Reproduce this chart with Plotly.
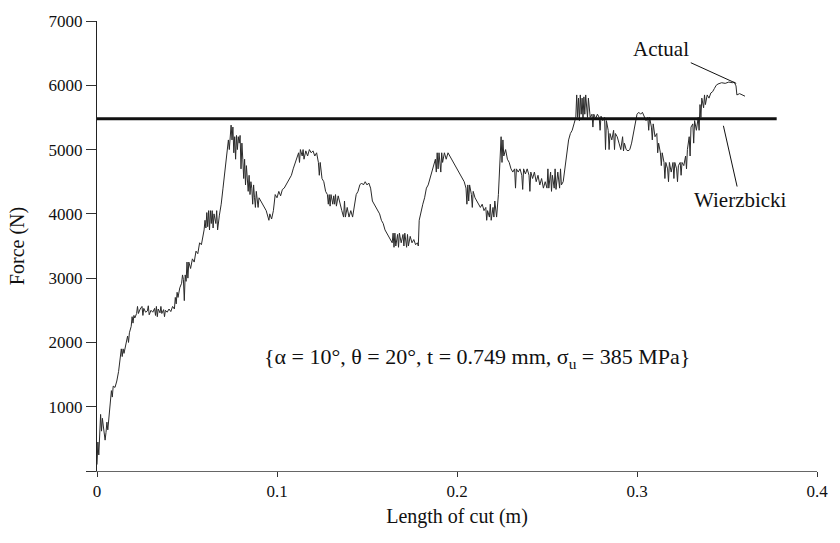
import plotly.graph_objects as go

# ---- data ----
actual_pts = [
    (0.000, 100), (0.0005, 450), (0.001, 250), (0.0015, 700), (0.002, 880), (0.0025, 620),
    (0.003, 820), (0.0035, 700), (0.004, 560), (0.0045, 480), (0.005, 600), (0.0055, 760),
    (0.006, 640), (0.0065, 820), (0.007, 900), (0.0075, 1100), (0.008, 1250), (0.0085, 1150),
    (0.009, 1320), (0.010, 1300), (0.011, 1400), (0.012, 1550), (0.013, 1800), (0.0135, 1900),
    (0.014, 1780), (0.0145, 1900), (0.015, 1830), (0.016, 1950), (0.017, 2100), (0.0175, 2000),
    (0.018, 2150), (0.019, 2250), (0.0195, 2400), (0.020, 2300), (0.0205, 2420), (0.021, 2380),
    (0.022, 2450), (0.0225, 2560), (0.023, 2450), (0.024, 2520),
    (0.025, 2560), (0.0255, 2420), (0.026, 2530), (0.027, 2470), (0.028, 2490), (0.0285, 2570),
    (0.029, 2430), (0.030, 2500), (0.031, 2470), (0.032, 2530), (0.0325, 2420), (0.033, 2560),
    (0.0335, 2400), (0.034, 2520), (0.035, 2460), (0.0355, 2560), (0.036, 2450), (0.037, 2510),
    (0.0375, 2400), (0.038, 2500), (0.039, 2470), (0.040, 2520), (0.041, 2480), (0.042, 2560),
    (0.043, 2520),
    (0.0435, 2700), (0.044, 2600), (0.0445, 2780), (0.045, 2700), (0.046, 2850), (0.047, 2920),
    (0.0475, 3050), (0.048, 2980), (0.0485, 2650), (0.049, 3050), (0.0495, 2950), (0.050, 3250),
    (0.0505, 3000), (0.051, 3250), (0.052, 3150), (0.053, 3300), (0.054, 3250), (0.055, 3420),
    (0.056, 3380), (0.057, 3550), (0.058, 3520), (0.059, 3650), (0.0595, 3750), (0.060, 3900),
    (0.0605, 3780), (0.061, 4020), (0.0615, 3800), (0.062, 4050), (0.0625, 3750), (0.063, 4050),
    (0.0635, 3850), (0.064, 4050), (0.0645, 3780), (0.065, 4000), (0.066, 3850), (0.0665, 4050),
    (0.067, 3750), (0.068, 3980), (0.069, 4150), (0.070, 4400), (0.071, 4650), (0.072, 4900),
    (0.073, 5150), (0.0735, 5000), (0.074, 5250), (0.0745, 5380),
    (0.075, 5150), (0.0755, 5350), (0.076, 4950), (0.0765, 5200), (0.077, 4850), (0.0775, 5220),
    (0.078, 5000), (0.0785, 5200), (0.079, 5100), (0.0795, 5220), (0.080, 4700), (0.0805, 5100),
    (0.081, 4850), (0.0815, 4550), (0.082, 4850), (0.0825, 4450), (0.083, 4750), (0.0835, 4600),
    (0.084, 4350), (0.0845, 4600), (0.085, 4300), (0.0855, 4500), (0.086, 4400), (0.0865, 4150),
    (0.087, 4450), (0.0875, 4250), (0.088, 4100), (0.0885, 4350), (0.089, 4200), (0.0895, 4100),
    (0.090, 4250), (0.091, 4200), (0.092, 4150), (0.093, 4100), (0.094, 4050), (0.095, 3950),
    (0.0955, 3900), (0.096, 4000), (0.097, 3920), (0.098, 4050), (0.099, 4300),
    (0.100, 4250), (0.101, 4350), (0.102, 4280), (0.103, 4380), (0.104, 4400), (0.105, 4450),
    (0.106, 4480), (0.107, 4550), (0.108, 4600), (0.109, 4700), (0.110, 4780), (0.111, 4850),
    (0.112, 4950), (0.1125, 4800), (0.113, 5000), (0.114, 4900), (0.1145, 5000), (0.115, 4850),
    (0.116, 4980), (0.117, 4900), (0.118, 5000), (0.119, 4950), (0.120, 4980), (0.121, 4900),
    (0.122, 4950), (0.123, 4800), (0.1235, 4600), (0.124, 4800), (0.125, 4550), (0.126, 4500),
    (0.127, 4350), (0.128, 4300), (0.1285, 4150), (0.129, 4300), (0.1295, 4120), (0.130, 4300),
    (0.131, 4150), (0.1315, 4280), (0.132, 4150), (0.1325, 4300), (0.133, 4120), (0.134, 4280),
    (0.135, 4150), (0.136, 4050), (0.137, 3950), (0.1375, 4200), (0.138, 3950), (0.139, 4100),
    (0.140, 3950), (0.141, 4050), (0.142, 3950), (0.143, 4150), (0.144, 4300), (0.145, 4350),
    (0.146, 4450), (0.147, 4480), (0.148, 4450), (0.149, 4500), (0.150, 4450), (0.151, 4480),
    (0.152, 4400), (0.153, 4200), (0.154, 4150), (0.155, 4100), (0.156, 4050), (0.157, 4000),
    (0.158, 3900), (0.159, 3850), (0.160, 3750), (0.161, 3700), (0.162, 3650), (0.163, 3600),
    (0.164, 3550), (0.1645, 3700), (0.165, 3480), (0.1655, 3700), (0.166, 3500), (0.167, 3680),
    (0.1675, 3480), (0.168, 3700), (0.169, 3550), (0.170, 3680), (0.1705, 3500), (0.171, 3700),
    (0.172, 3480), (0.1725, 3680), (0.173, 3500), (0.174, 3650), (0.175, 3550), (0.176, 3600),
    (0.177, 3520), (0.178, 3550), (0.1785, 3500), (0.179, 3900), (0.180, 4050), (0.181, 4150),
    (0.182, 4250), (0.183, 4400), (0.184, 4450), (0.185, 4550), (0.186, 4650), (0.187, 4750),
    (0.188, 4850), (0.1885, 4650), (0.189, 4950), (0.1895, 4700), (0.190, 4950), (0.191, 4650),
    (0.1915, 4950), (0.192, 4800), (0.193, 4950), (0.194, 4850), (0.195, 4950), (0.196, 4900),
    (0.197, 4850), (0.198, 4800), (0.199, 4750), (0.200, 4700), (0.201, 4650), (0.202, 4600),
    (0.203, 4550), (0.204, 4500), (0.205, 4400), (0.2055, 4150), (0.206, 4450), (0.2065, 4200),
    (0.207, 4450), (0.208, 4300), (0.2085, 4100), (0.209, 4350), (0.210, 4250), (0.211, 4200),
    (0.212, 4150), (0.213, 4100), (0.214, 4150), (0.215, 4050), (0.216, 4100), (0.2165, 3900),
    (0.217, 4050), (0.218, 3950), (0.2185, 4150), (0.219, 3900), (0.220, 4100), (0.2205, 3950),
    (0.221, 4200), (0.222, 3950), (0.223, 4300), (0.2235, 4600), (0.224, 5000), (0.2245, 5200),
    (0.225, 4800), (0.2255, 5150), (0.226, 4900), (0.227, 5000), (0.228, 4850), (0.229, 4800),
    (0.230, 4700), (0.231, 4650), (0.232, 4700), (0.2325, 4400), (0.233, 4700), (0.234, 4650),
    (0.235, 4700), (0.236, 4600), (0.2365, 4380), (0.237, 4700), (0.238, 4620), (0.239, 4700),
    (0.240, 4600), (0.2405, 4350), (0.241, 4650), (0.242, 4550), (0.243, 4650), (0.244, 4500),
    (0.245, 4600), (0.246, 4450), (0.247, 4550), (0.248, 4400), (0.249, 4500), (0.250, 4400),
    (0.2505, 4700), (0.251, 4400), (0.252, 4650), (0.2525, 4350), (0.253, 4600), (0.254, 4400),
    (0.2545, 4700), (0.255, 4380), (0.256, 4650), (0.257, 4400), (0.2575, 4700), (0.258, 4450),
    (0.259, 4500), (0.260, 4750), (0.261, 5000), (0.262, 5150), (0.263, 5250), (0.264, 5300),
    (0.265, 5400),
    (0.266, 5500), (0.2665, 5850), (0.267, 5500), (0.2675, 5800), (0.268, 5450), (0.2685, 5850),
    (0.269, 5550), (0.2695, 5800), (0.270, 5480), (0.2705, 5820), (0.271, 5550), (0.2715, 5850),
    (0.272, 5600), (0.2725, 5500), (0.273, 5800), (0.274, 5500), (0.275, 5550), (0.2755, 5350),
    (0.276, 5550), (0.277, 5480), (0.278, 5550), (0.279, 5500), (0.2795, 5300), (0.280, 5520),
    (0.281, 5450), (0.282, 5500), (0.2825, 5000), (0.283, 5450), (0.284, 5300), (0.2845, 5000),
    (0.285, 5250), (0.286, 5150), (0.287, 5300), (0.2875, 5000), (0.288, 5250), (0.289, 5200),
    (0.290, 5100), (0.291, 5000), (0.292, 5200), (0.2925, 4980), (0.293, 5100), (0.294, 5000),
    (0.295, 4980), (0.296, 5000), (0.297, 5100), (0.298, 5250), (0.299, 5400), (0.300, 5550),
    (0.301, 5580), (0.302, 5550), (0.303, 5580), (0.304, 5500), (0.305, 5450), (0.306, 5500),
    (0.3065, 5300), (0.307, 5500), (0.308, 5350), (0.3085, 5150), (0.309, 5400), (0.310, 5200),
    (0.311, 5250), (0.3115, 4950), (0.312, 5100), (0.313, 4950), (0.3135, 4750), (0.314, 4950),
    (0.315, 4800), (0.3155, 4550), (0.316, 4800), (0.317, 4700), (0.3175, 4500), (0.318, 4800),
    (0.319, 4650), (0.320, 4800), (0.3205, 4550), (0.321, 4800), (0.322, 4700), (0.3225, 4500),
    (0.323, 4750), (0.324, 4800), (0.3245, 4600), (0.325, 4800), (0.326, 4750), (0.327, 4900),
    (0.3275, 4700), (0.328, 5000), (0.329, 5200), (0.3295, 4900), (0.330, 5350), (0.331, 5400),
    (0.3315, 5100), (0.332, 5450), (0.333, 5300), (0.334, 5500), (0.3345, 5300), (0.335, 5700),
    (0.3355, 5500), (0.336, 5800), (0.337, 5650), (0.3375, 5850), (0.338, 5700), (0.339, 5850),
    (0.340, 5800), (0.341, 5880), (0.342, 5900), (0.343, 5950), (0.344, 6000), (0.345, 6020),
    (0.347, 6040), (0.349, 6030), (0.351, 6050), (0.353, 6040), (0.354, 6050), (0.355, 5990),
    (0.3555, 5850), (0.357, 5870), (0.359, 5840), (0.360, 5830),
]
actual_x = [p[0] for p in actual_pts]
actual_y = [p[1] for p in actual_pts]

wierzbicki_x = [0.0, 0.3776]
wierzbicki_y = [5480, 5480]

x_ticks = [0, 0.1, 0.2, 0.3, 0.4]
x_tick_labels = ["0", "0.1", "0.2", "0.3", "0.4"]
y_ticks = [0, 1000, 2000, 3000, 4000, 5000, 6000, 7000]
y_tick_labels = ["", "1000", "2000", "3000", "4000", "5000", "6000", "7000"]

params_text = "{α = 10°, θ = 20°, t = 0.749 mm, σ<sub>u</sub> = 385 MPa}"

FONT = "Liberation Serif, Times New Roman, serif"

fig = go.Figure()
fig.add_trace(go.Scatter(x=actual_x, y=actual_y, mode="lines",
                         line=dict(color="#2a2a2a", width=1), name="Actual",
                         showlegend=False))
fig.add_trace(go.Scatter(x=wierzbicki_x, y=wierzbicki_y, mode="lines",
                         line=dict(color="#111111", width=3), name="Wierzbicki",
                         showlegend=False))

# leader annotations: (x, y) = point on the curve, (ax, ay) = label position
fig.add_annotation(x=0.3551, y=6030, ax=0.3135, ay=6560, axref="x", ayref="y",
                   text="Actual", showarrow=True,
                   arrowhead=0, arrowwidth=1, arrowcolor="#111", standoff=0,
                   font=dict(family=FONT, size=21, color="#111"))
fig.add_annotation(x=0.348, y=5370, ax=0.3573, ay=4215, axref="x", ayref="y",
                   text="Wierzbicki", showarrow=True,
                   arrowhead=0, arrowwidth=1, arrowcolor="#111", standoff=0,
                   font=dict(family=FONT, size=21, color="#111"))
fig.add_annotation(x=0.211, y=1754, text=params_text, showarrow=False,
                   font=dict(family=FONT, size=22, color="#111"))

fig.update_layout(
    width=840, height=543,
    margin=dict(l=97, r=12, t=16, b=72),
    paper_bgcolor="white", plot_bgcolor="white",
    font=dict(family=FONT, size=17, color="#111"),
    showlegend=False,
)
fig.update_xaxes(range=[0, 0.4], tickvals=x_ticks, ticktext=x_tick_labels,
                 showgrid=False, zeroline=False, showline=True,
                 linecolor="#666", linewidth=1, ticks="outside", ticklen=5,
                 tickcolor="#333", tickfont=dict(family=FONT, size=17),
                 title=dict(text="Length of cut (m)", standoff=8,
                            font=dict(family=FONT, size=20)))
fig.update_yaxes(range=[0, 7000], tickvals=y_ticks, ticktext=y_tick_labels,
                 showgrid=False, zeroline=False, showline=True,
                 linecolor="#222", linewidth=1, ticks="outside", ticklen=10,
                 tickcolor="#333", tickfont=dict(family=FONT, size=17),
                 title=dict(text="Force (N)", standoff=18,
                            font=dict(family=FONT, size=20)))

fig.write_html("out.html")
